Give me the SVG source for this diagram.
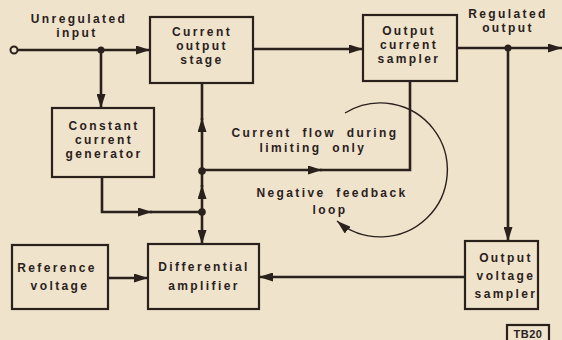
<svg xmlns="http://www.w3.org/2000/svg" width="562" height="340" viewBox="0 0 562 340">
<defs>
<style>
.bg{fill:#efe3cc}
.box{fill:none;stroke:#2a211c;stroke-width:2.2}
.ln{fill:none;stroke:#2a211c;stroke-width:2.6}
.thin{fill:none;stroke:#2a211c;stroke-width:1.4}
.dot{fill:#2a211c}
text{font-family:"Liberation Sans",Arial,sans-serif;font-weight:bold;font-size:12px;fill:#2a211c;text-anchor:middle;letter-spacing:2.4px;word-spacing:5px}
</style>
<marker id="ah" markerWidth="14" markerHeight="9" refX="14" refY="4.5" orient="auto" markerUnits="userSpaceOnUse">
<path d="M0,0 L14,4.5 L0,9 Z" fill="#2a211c"/>
</marker>
</defs>
<rect class="bg" x="0" y="0" width="562" height="340"/>

<g id="connectors">
<circle cx="14" cy="50" r="3.5" fill="#efe3cc" stroke="#2a211c" stroke-width="2"/>
<line class="ln" x1="17.5" y1="50" x2="150" y2="50" marker-end="url(#ah)"/>
<circle class="dot" cx="101" cy="50" r="3.5"/>
<line class="ln" x1="101" y1="50" x2="101" y2="108" marker-end="url(#ah)"/>
<line class="ln" x1="254" y1="49" x2="363" y2="49" marker-end="url(#ah)"/>
<line class="ln" x1="457" y1="48" x2="562" y2="48" marker-end="url(#ah)"/>
<circle class="dot" cx="508" cy="48" r="3.5"/>
<line class="ln" x1="508" y1="48" x2="508" y2="241" marker-end="url(#ah)"/>
<line class="ln" x1="465" y1="277" x2="259" y2="277" marker-end="url(#ah)"/>
<line class="ln" x1="108" y1="278" x2="148" y2="278" marker-end="url(#ah)"/>
<line class="ln" x1="202" y1="171" x2="202" y2="118" marker-end="url(#ah)"/>
<line class="ln" x1="202" y1="120" x2="202" y2="83"/>
<line class="ln" x1="202" y1="212" x2="202" y2="185" marker-end="url(#ah)"/>
<line class="ln" x1="202" y1="187" x2="202" y2="171"/>
<line class="ln" x1="202" y1="212" x2="202" y2="244" marker-end="url(#ah)"/>
<path class="ln" d="M102,177 V212 H152" marker-end="url(#ah)"/>
<line class="ln" x1="150" y1="212" x2="202" y2="212"/>
<line class="ln" x1="202" y1="170" x2="322" y2="170" marker-end="url(#ah)"/>
<path class="ln" d="M320,170 H410 V81"/>
<circle class="dot" cx="202" cy="171" r="3.8"/>
<circle class="dot" cx="202" cy="212" r="3.8"/>
<path class="thin" d="M345,113 A67,67 0 1 1 337,221" marker-end="url(#ah)"/>
</g>

<g id="labels">
<text x="79" y="23">Unregulated</text>
<text x="77" y="37">input</text>
<text x="508" y="18">Regulated</text>
<text x="508" y="32">output</text>
<text x="315" y="137">Current flow during</text>
<text x="313" y="152">limiting only</text>
<text x="332" y="197">Negative feedback</text>
<text x="330" y="214">loop</text>
</g>

<g id="current-output-stage">
<rect class="box" x="150" y="17" width="103" height="66"/>
<text x="202" y="36">Current</text>
<text x="202" y="50">output</text>
<text x="202" y="64">stage</text>
</g>

<g id="output-current-sampler">
<rect class="box" x="363" y="15" width="94" height="66"/>
<text x="409" y="35">Output</text>
<text x="409" y="49">current</text>
<text x="409" y="63">sampler</text>
</g>

<g id="constant-current-generator">
<rect class="box" x="52" y="108" width="102" height="69"/>
<text x="104" y="130">Constant</text>
<text x="104" y="144">current</text>
<text x="104" y="158">generator</text>
</g>

<g id="reference-voltage">
<rect class="box" x="12" y="245" width="96" height="64"/>
<text x="57" y="272">Reference</text>
<text x="60" y="290">voltage</text>
</g>

<g id="differential-amplifier">
<rect class="box" x="148" y="244" width="111" height="65"/>
<text x="204" y="271">Differential</text>
<text x="204" y="290">amplifier</text>
</g>

<g id="output-voltage-sampler">
<rect class="box" x="465" y="241" width="73" height="68"/>
<text x="506" y="262">Output</text>
<text x="506" y="280">voltage</text>
<text x="506" y="298">sampler</text>
</g>

<g id="tb20">
<rect class="box" x="507" y="325" width="42" height="17" stroke-width="1.6"/>
<text x="528" y="338" style="font-size:11px;letter-spacing:0.5px">TB20</text>
</g>
</svg>
